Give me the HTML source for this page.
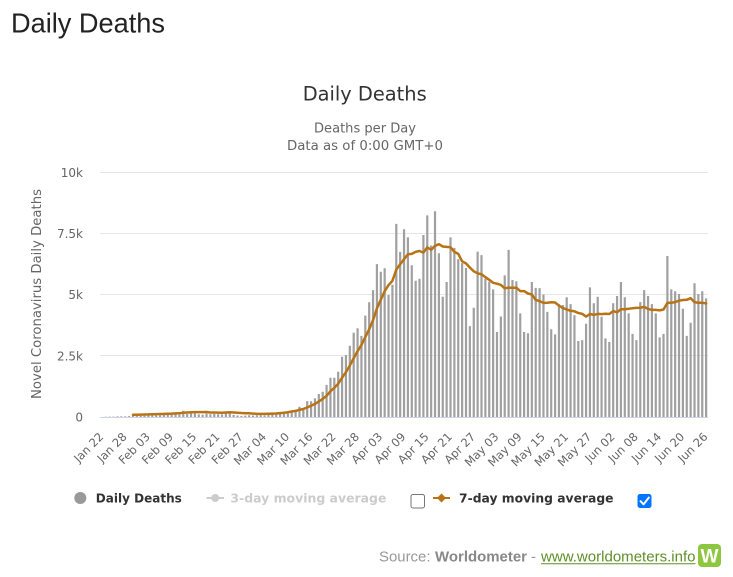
<!DOCTYPE html>
<html>
<head>
<meta charset="utf-8">
<style>
html,body{margin:0;padding:0;background:#fff;}
svg{display:block;}
.ax{font-family:"DejaVu Sans",sans-serif;fill:#666;}
</style>
</head>
<body>
<svg width="733" height="577" viewBox="0 0 733 577" xmlns="http://www.w3.org/2000/svg">
<rect width="733" height="577" fill="#fff"/>
<text x="11" y="32.3" font-family="Liberation Sans, Arial, sans-serif" font-size="28" fill="#222" textLength="154" lengthAdjust="spacingAndGlyphs">Daily Deaths</text>

<text x="364.7" y="100.7" text-anchor="middle" font-family="DejaVu Sans, sans-serif" font-size="19.5" fill="#333" textLength="124" lengthAdjust="spacingAndGlyphs">Daily Deaths</text>
<text x="365" y="132.7" text-anchor="middle" class="ax" font-size="13" textLength="102" lengthAdjust="spacingAndGlyphs">Deaths per Day</text>
<text x="365" y="150" text-anchor="middle" class="ax" font-size="13" textLength="156" lengthAdjust="spacingAndGlyphs">Data as of 0:00 GMT+0</text>

<!-- gridlines -->
<g stroke="#e6e6e6" stroke-width="1">
<line x1="100" y1="172.5" x2="708" y2="172.5"/>
<line x1="100" y1="233.5" x2="708" y2="233.5"/>
<line x1="100" y1="294.5" x2="708" y2="294.5"/>
<line x1="100" y1="355.5" x2="708" y2="355.5"/>
</g>
<line x1="100" y1="417.5" x2="708" y2="417.5" stroke="#ccd6eb" stroke-width="1"/>

<!-- y labels -->
<g class="ax" font-size="12" text-anchor="end">
<text x="83" y="177">10k</text>
<text x="83" y="238">7.5k</text>
<text x="83" y="299">5k</text>
<text x="83" y="360.5">2.5k</text>
<text x="83" y="421.5">0</text>
</g>
<text transform="translate(41,294) rotate(-90)" text-anchor="middle" class="ax" font-size="13" textLength="210" lengthAdjust="spacingAndGlyphs">Novel Coronavirus Daily Deaths</text>

<!-- bars -->
<path fill="#a0a0a0" d="M100.84,417m3.873,0v-.2h2.2v.2m1.673,0v-.4h2.2v.4m1.673,0v-.4h2.2v.4m1.673,0v-.6h2.2v.6m1.673,0v-.6h2.2v.6m1.673,0v-.6h2.2v.6m1.673,0v-.9h2.2v.9m1.673,0v-1.1h2.2v1.1m1.673,0v-1.1h2.2v1.1m1.673,0v-1.1h2.2v1.1m1.673,0v-1.4h2.2v1.4m1.673,0v-1.6h2.2v1.6m1.673,0v-1.6h2.2v1.6m1.673,0v-1.8h2.2v1.8m1.673,0v-1.8h2.2v1.8m1.673,0v-2.1h2.2v2.1m1.673,0v-2.2h2.2v2.2m1.673,0v-2.4h2.2v2.4m1.673,0v-2.6h2.2v2.6m1.673,0v-2.4h2.2v2.4m1.673,0v-6.2h2.2v6.2m1.673,0v-3h2.2v3m1.673,0v-3.5h2.2v3.5m1.673,0v-3.5h2.2v3.5m1.673,0v-2.6h2.2v2.6m1.673,0v-2.4h2.2v2.4m1.673,0v-3.4h2.2v3.4m1.673,0v-2.8h2.2v2.8m1.673,0v-3.1h2.2v3.1m1.673,0v-2.7h2.2v2.7m1.673,0v-2.6h2.2v2.6m1.673,0v-3.9h2.2v3.9m1.673,0v-3.8h2.2v3.8m1.673,0v-2h2.2v2m1.673,0v-1.5h2.2v1.5m1.673,0v-1.1h2.2v1.1m1.673,0v-1.4h2.2v1.4m1.673,0v-1.7h2.2v1.7m1.673,0v-1.5h2.2v1.5m1.673,0v-1.7h2.2v1.7m1.673,0v-1.9h2.2v1.9m1.673,0v-1.6h2.2v1.6m1.673,0v-2.5h2.2v2.5m1.673,0v-2.5h2.2v2.5m1.673,0v-2.5h2.2v2.5m1.673,0v-4.3h2.2v4.3m1.673,0v-4.3h2.2v4.3m1.673,0v-5.4h2.2v5.4m1.673,0v-6.4h2.2v6.4m1.673,0v-7h2.2v7m1.673,0v-10.3h2.2v10.3m1.673,0v-7.6h2.2v7.6m1.673,0v-15.9h2.2v15.9m1.673,0v-15.7h2.2v15.7m1.673,0v-18.6h2.2v18.6m1.673,0v-23h2.2v23m1.673,0v-25.2h2.2v25.2m1.673,0v-32.1h2.2v32.1m1.673,0v-39.2h2.2v39.2m1.673,0v-39.2h2.2v39.2m1.673,0v-45.3h2.2v45.3m1.673,0v-60.3h2.2v60.3m1.673,0v-62h2.2v62m1.673,0v-71.3h2.2v71.3m1.673,0v-84.3h2.2v84.3m1.673,0v-88.7h2.2v88.7m1.673,0v-81.1h2.2v81.1m1.673,0v-101.4h2.2v101.4m1.673,0v-114.7h2.2v114.7m1.673,0v-126.9h2.2v126.9m1.673,0v-152.9h2.2v152.9m1.673,0v-145.3h2.2v145.3m1.673,0v-148.7h2.2v148.7m1.673,0v-122h2.2v122m1.673,0v-132.3h2.2v132.3m1.673,0v-193.1h2.2v193.1m1.673,0v-165.1h2.2v165.1m1.673,0v-187.7h2.2v187.7m1.673,0v-179.6h2.2v179.6m1.673,0v-151.7h2.2v151.7m1.673,0v-136.2h2.2v136.2m1.673,0v-138.2h2.2v138.2m1.673,0v-182h2.2v182m1.673,0v-201.6h2.2v201.6m1.673,0v-171.5h2.2v171.5m1.673,0v-205.8h2.2v205.8m1.673,0v-163.7h2.2v163.7m1.673,0v-120.3h2.2v120.3m1.673,0v-135h2.2v135m1.673,0v-179.6h2.2v179.6m1.673,0v-169.1h2.2v169.1m1.673,0v-157.8h2.2v157.8m1.673,0v-153.9h2.2v153.9m1.673,0v-149h2.2v149m1.673,0v-90.9h2.2v90.9m1.673,0v-109.3h2.2v109.3m1.673,0v-165.4h2.2v165.4m1.673,0v-161.9h2.2v161.9m1.673,0v-138.4h2.2v138.4m1.673,0v-135.2h2.2v135.2m1.673,0v-127.6h2.2v127.6m1.673,0v-85h2.2v85m1.673,0v-100.5h2.2v100.5m1.673,0v-141.6h2.2v141.6m1.673,0v-167.1h2.2v167.1m1.673,0v-137h2.2v137m1.673,0v-135.7h2.2v135.7m1.673,0v-103.6h2.2v103.6m1.673,0v-85h2.2v85m1.673,0v-83.8h2.2v83.8m1.673,0v-135h2.2v135m1.673,0v-129.1h2.2v129.1m1.673,0v-128.9h2.2v128.9m1.673,0v-122.5h2.2v122.5m1.673,0v-105.1h2.2v105.1m1.673,0v-87.7h2.2v87.7m1.673,0v-82.6h2.2v82.6m1.673,0v-112.9h2.2v112.9m1.673,0v-112h2.2v112m1.673,0v-119.8h2.2v119.8m1.673,0v-112.9h2.2v112.9m1.673,0v-101.7h2.2v101.7m1.673,0v-76h2.2v76m1.673,0v-76.9h2.2v76.9m1.673,0v-93.3h2.2v93.3m1.673,0v-129.6h2.2v129.6m1.673,0v-113.7h2.2v113.7m1.673,0v-120.3h2.2v120.3m1.673,0v-100.2h2.2v100.2m1.673,0v-78.6h2.2v78.6m1.673,0v-75h2.2v75m1.673,0v-113.7h2.2v113.7m1.673,0v-121h2.2v121m1.673,0v-135h2.2v135m1.673,0v-119.8h2.2v119.8m1.673,0v-103.6h2.2v103.6m1.673,0v-83.1h2.2v83.1m1.673,0v-76.9h2.2v76.9m1.673,0v-114.9h2.2v114.9m1.673,0v-126.9h2.2v126.9m1.673,0v-121h2.2v121m1.673,0v-112.9h2.2v112.9m1.673,0v-103.6h2.2v103.6m1.673,0v-79.6h2.2v79.6m1.673,0v-83.1h2.2v83.1m1.673,0v-161h2.2v161m1.673,0v-127.6h2.2v127.6m1.673,0v-125.7h2.2v125.7m1.673,0v-123h2.2v123m1.673,0v-108.3h2.2v108.3m1.673,0v-81.1h2.2v81.1m1.673,0v-94.3h2.2v94.3m1.673,0v-133.8h2.2v133.8m1.673,0v-123h2.2v123m1.673,0v-125.7h2.2v125.7m1.673,0v-118.6h2.2v118.6m1.673,0"/>

<!-- 7-day moving average -->
<path transform="translate(0,-1.5)" fill="none" stroke="#b87314" stroke-width="2.5" stroke-linejoin="round" stroke-linecap="round" d="M132.9,416.3L136.8,416.2L140.7,416.1L144.5,416.0L148.4,415.9L152.3,415.7L156.2,415.6L160.0,415.5L163.9,415.4L167.8,415.2L171.7,415.1L175.5,414.9L179.4,414.8L183.3,414.2L187.2,414.0L191.0,413.8L194.9,413.6L198.8,413.6L202.6,413.6L206.5,413.5L210.4,414.0L214.3,414.0L218.1,414.1L222.0,414.2L225.9,414.0L229.8,413.8L233.6,414.0L237.5,414.2L241.4,414.5L245.2,414.7L249.1,414.8L253.0,415.1L256.9,415.4L260.7,415.4L264.6,415.4L268.5,415.2L272.4,415.1L276.2,415.0L280.1,414.6L284.0,414.2L287.8,413.7L291.7,413.0L295.6,412.4L299.5,411.3L303.3,410.5L307.2,408.9L311.1,407.3L315.0,405.4L318.8,403.0L322.7,400.4L326.6,397.3L330.5,392.7L334.3,389.4L338.2,385.2L342.1,379.2L345.9,373.7L349.8,367.1L353.7,359.6L357.6,352.6L361.4,346.6L365.3,338.6L369.2,330.8L373.1,321.5L376.9,309.9L380.8,301.1L384.7,292.6L388.5,286.7L392.4,282.3L396.3,271.1L400.2,265.7L404.0,260.7L407.9,255.8L411.8,255.4L415.7,253.3L419.5,252.5L423.4,254.1L427.3,248.9L431.2,251.2L435.0,247.4L438.9,245.7L442.8,248.0L446.6,248.4L450.5,248.8L454.4,253.4L458.3,255.4L462.1,262.8L466.0,264.9L469.9,269.1L473.8,272.8L477.6,274.8L481.5,275.8L485.4,278.6L489.2,281.3L493.1,284.3L497.0,285.2L500.9,286.4L504.7,289.8L508.6,289.1L512.5,289.3L516.4,289.2L520.2,292.6L524.1,292.6L528.0,295.0L531.8,296.0L535.7,301.4L539.6,302.6L543.5,304.4L547.3,304.2L551.2,303.8L555.1,304.0L559.0,307.2L562.8,309.6L566.7,310.9L570.6,312.3L574.4,312.8L578.3,314.5L582.2,315.3L586.1,318.1L589.9,315.5L593.8,316.4L597.7,315.4L601.6,315.6L605.4,315.2L609.3,315.5L613.2,312.6L617.1,313.8L620.9,310.7L624.8,310.8L628.7,310.3L632.5,309.7L636.4,309.4L640.3,309.2L644.2,308.4L648.0,310.4L651.9,311.4L655.8,311.4L659.7,311.9L663.5,311.0L667.4,304.4L671.3,304.3L675.1,303.6L679.0,302.2L682.9,301.5L686.8,301.3L690.6,299.7L694.5,303.6L698.4,304.3L702.3,304.3L706.1,304.9"/>

<!-- x labels -->
<g class="ax" font-size="11.5" text-anchor="end">
<text transform="translate(104.2,437.5) rotate(-45)">Jan 22</text>
<text transform="translate(127.5,437.5) rotate(-45)">Jan 28</text>
<text transform="translate(150.7,437.5) rotate(-45)">Feb 03</text>
<text transform="translate(173.9,437.5) rotate(-45)">Feb 09</text>
<text transform="translate(197.2,437.5) rotate(-45)">Feb 15</text>
<text transform="translate(220.4,437.5) rotate(-45)">Feb 21</text>
<text transform="translate(243.7,437.5) rotate(-45)">Feb 27</text>
<text transform="translate(266.9,437.5) rotate(-45)">Mar 04</text>
<text transform="translate(290.1,437.5) rotate(-45)">Mar 10</text>
<text transform="translate(313.4,437.5) rotate(-45)">Mar 16</text>
<text transform="translate(336.6,437.5) rotate(-45)">Mar 22</text>
<text transform="translate(359.9,437.5) rotate(-45)">Mar 28</text>
<text transform="translate(383.1,437.5) rotate(-45)">Apr 03</text>
<text transform="translate(406.3,437.5) rotate(-45)">Apr 09</text>
<text transform="translate(429.6,437.5) rotate(-45)">Apr 15</text>
<text transform="translate(452.8,437.5) rotate(-45)">Apr 21</text>
<text transform="translate(476.1,437.5) rotate(-45)">Apr 27</text>
<text transform="translate(499.3,437.5) rotate(-45)">May 03</text>
<text transform="translate(522.5,437.5) rotate(-45)">May 09</text>
<text transform="translate(545.8,437.5) rotate(-45)">May 15</text>
<text transform="translate(569.0,437.5) rotate(-45)">May 21</text>
<text transform="translate(592.2,437.5) rotate(-45)">May 27</text>
<text transform="translate(615.5,437.5) rotate(-45)">Jun 02</text>
<text transform="translate(638.7,437.5) rotate(-45)">Jun 08</text>
<text transform="translate(662.0,437.5) rotate(-45)">Jun 14</text>
<text transform="translate(685.2,437.5) rotate(-45)">Jun 20</text>
<text transform="translate(708.4,437.5) rotate(-45)">Jun 26</text>
</g>

<!-- legend -->
<circle cx="80.3" cy="498" r="6" fill="#999"/>
<text x="95.8" y="502.5" font-family="DejaVu Sans, sans-serif" font-weight="bold" font-size="12" fill="#333" textLength="86" lengthAdjust="spacingAndGlyphs">Daily Deaths</text>

<line x1="206.5" y1="498" x2="224" y2="498" stroke="#ccc" stroke-width="2"/>
<circle cx="215.2" cy="498" r="4" fill="#ccc"/>
<text x="230.4" y="502.5" font-family="DejaVu Sans, sans-serif" font-weight="bold" font-size="12" fill="#ccc" textLength="156" lengthAdjust="spacingAndGlyphs">3-day moving average</text>
<rect x="411" y="494.5" width="13.5" height="13.5" rx="2" fill="#fff" stroke="#767676" stroke-width="1"/>

<line x1="433" y1="498" x2="450" y2="498" stroke="#b87314" stroke-width="2"/>
<path d="M441.5,493.5L446,498L441.5,502.5L437,498Z" fill="#b87314"/>
<text x="459" y="502.5" font-family="DejaVu Sans, sans-serif" font-weight="bold" font-size="12" fill="#333" textLength="154.5" lengthAdjust="spacingAndGlyphs">7-day moving average</text>
<rect x="637.5" y="494" width="14" height="14" rx="2.5" fill="#0075ff"/>
<path d="M640.5,501.2L643.6,504.3L648.8,497.6" fill="none" stroke="#fff" stroke-width="2" stroke-linecap="round" stroke-linejoin="round"/>

<!-- source -->
<text x="379" y="561.5" font-family="Liberation Sans, Arial, sans-serif" font-size="15" fill="#999" textLength="51.5" lengthAdjust="spacingAndGlyphs">Source:</text>
<text x="435" y="561.5" font-family="Liberation Sans, Arial, sans-serif" font-weight="bold" font-size="15" fill="#888" textLength="92" lengthAdjust="spacingAndGlyphs">Worldometer</text>
<text x="531" y="561.5" font-family="Liberation Sans, Arial, sans-serif" font-size="15" fill="#999">-</text>
<text x="541" y="561.5" font-family="Liberation Sans, Arial, sans-serif" font-size="15" fill="#5f8f2a" textLength="154.5" lengthAdjust="spacingAndGlyphs">www.worldometers.info</text>
<line x1="541" y1="563.8" x2="695.5" y2="563.8" stroke="#5f8f2a" stroke-width="1"/>
<rect x="698" y="544" width="23" height="23" rx="4" fill="#8dc63f"/>
<text x="709.5" y="562.5" text-anchor="middle" font-family="Liberation Sans, Arial, sans-serif" font-weight="bold" font-size="19" fill="#fff">W</text>
</svg>
</body>
</html>
